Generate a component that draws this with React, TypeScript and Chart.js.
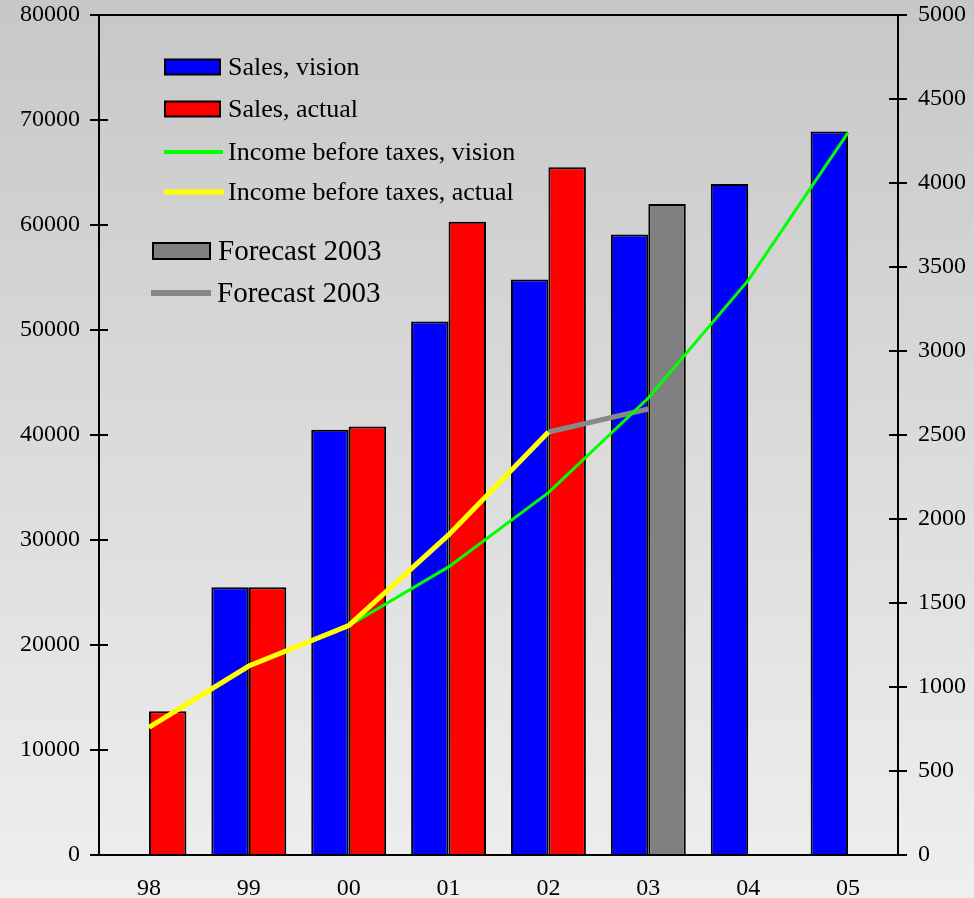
import React, { useEffect, useRef } from "react";
import { Chart, registerables } from "chart.js";

Chart.register(...registerables);

const categories = ["98", "99", "00", "01", "02", "03", "04", "05"];
const salesVision = [null, 25500, 40500, 50800, 54800, 59100, 63900, 68900];
const salesActual = [13700, 25500, 40800, 60300, 65500, null, null, null];
const forecastSales = [null, null, null, null, null, 62000, null, null];
const incomeVision = [null, null, 1365, 1715, 2157, 2720, 3420, 4300];
const incomeActual = [760, 1125, 1365, 1905, 2518, null, null, null];
const forecastIncome = [null, null, null, null, 2518, 2655, null, null];
const leftTicks = [0, 10000, 20000, 30000, 40000, 50000, 60000, 70000, 80000];
const rightTicks = [0, 500, 1000, 1500, 2000, 2500, 3000, 3500, 4000, 4500, 5000];

const FONT = '"Liberation Serif", "Times New Roman", serif';

const bgPlugin = {
  id: "bg",
  beforeDraw(chart: any) {
    const { ctx, width, height } = chart;
    const g = ctx.createLinearGradient(0, 0, 0, height);
    g.addColorStop(0, "#c7c7c7");
    g.addColorStop(1, "#efefef");
    ctx.save();
    ctx.fillStyle = g;
    ctx.fillRect(0, 0, width, height);
    ctx.restore();
  },
};

const axisPlugin = {
  id: "axisExtras",
  afterDraw(chart: any) {
    const { ctx, chartArea } = chart;
    const { left, right, top, bottom } = chartArea;
    ctx.save();
    ctx.strokeStyle = "#000";
    ctx.lineWidth = 2;
    ctx.beginPath();
    ctx.moveTo(left, top);
    ctx.lineTo(right, top);
    ctx.moveTo(left - 9, bottom);
    ctx.lineTo(right + 9, bottom);
    const y = chart.scales.y;
    y.ticks.forEach((t: any) => {
      const p = y.getPixelForValue(t.value);
      ctx.moveTo(left, p);
      ctx.lineTo(left + 9, p);
    });
    const y1 = chart.scales.y1;
    y1.ticks.forEach((t: any) => {
      const p = y1.getPixelForValue(t.value);
      ctx.moveTo(right - 9, p);
      ctx.lineTo(right, p);
    });
    ctx.stroke();
    ctx.restore();
  },
};

const legendPlugin = {
  id: "customLegend",
  afterDraw(chart: any) {
    const { ctx } = chart;
    const ds = chart.data.datasets;
    const items = [
      { i: 0, kind: "box", x1: 165, x2: 220, y: 67, h: 15, tx: 228, size: 26 },
      { i: 1, kind: "box", x1: 165, x2: 220, y: 109, h: 15, tx: 228, size: 26 },
      { i: 2, kind: "line", x1: 164, x2: 223, y: 152, w: 4, tx: 228, size: 26 },
      { i: 3, kind: "line", x1: 164, x2: 224, y: 192, w: 5, tx: 228, size: 26 },
      { i: 4, kind: "box", x1: 153, x2: 210, y: 251, h: 16, tx: 218, size: 29 },
      { i: 5, kind: "line", x1: 151, x2: 211, y: 293, w: 6, tx: 217, size: 29 },
    ];
    ctx.save();
    items.forEach((it: any) => {
      const d = ds[it.i];
      if (it.kind === "box") {
        ctx.fillStyle = d.backgroundColor;
        ctx.fillRect(it.x1, it.y - it.h / 2, it.x2 - it.x1, it.h);
        ctx.strokeStyle = "#000";
        ctx.lineWidth = 2;
        ctx.strokeRect(it.x1, it.y - it.h / 2, it.x2 - it.x1, it.h);
      } else {
        ctx.strokeStyle = d.borderColor;
        ctx.lineWidth = it.w;
        ctx.beginPath();
        ctx.moveTo(it.x1, it.y);
        ctx.lineTo(it.x2, it.y);
        ctx.stroke();
      }
      ctx.fillStyle = "#000";
      ctx.font = `${it.size}px ${FONT}`;
      ctx.textBaseline = "middle";
      ctx.textAlign = "left";
      ctx.fillText(d.label, it.tx, it.y + 1);
    });
    ctx.restore();
  },
};

export default function App() {
  const ref = useRef<HTMLCanvasElement | null>(null);
  useEffect(() => {
    if (!ref.current) return;
    const tickFont = { family: FONT, size: 24 };
    const fitV = (w: number) => (s: any) => {
      s.width = w;
      s.paddingTop = 0;
      s.paddingBottom = 0;
    };
    const chart = new Chart(ref.current, {
      type: "bar",
      data: {
        labels: categories,
        datasets: [
          {
            type: "bar",
            label: "Sales, vision",
            data: salesVision,
            backgroundColor: "#0000ff",
            borderColor: "#000",
            borderWidth: 2,
            stack: "a",
            yAxisID: "y",
            order: 2,
          },
          {
            type: "bar",
            label: "Sales, actual",
            data: salesActual,
            backgroundColor: "#ff0000",
            borderColor: "#000",
            borderWidth: 2,
            stack: "b",
            yAxisID: "y",
            order: 2,
          },
          {
            type: "line",
            label: "Income before taxes, vision",
            data: incomeVision,
            borderColor: "#00ff00",
            backgroundColor: "#00ff00",
            borderWidth: 3,
            pointRadius: 0,
            tension: 0,
            yAxisID: "y1",
            order: 1,
          },
          {
            type: "line",
            label: "Income before taxes, actual",
            data: incomeActual,
            borderColor: "#ffff00",
            backgroundColor: "#ffff00",
            borderWidth: 5,
            pointRadius: 0,
            tension: 0,
            yAxisID: "y1",
            order: 0,
          },
          {
            type: "bar",
            label: "Forecast 2003",
            data: forecastSales,
            backgroundColor: "#808080",
            borderColor: "#000",
            borderWidth: 2,
            stack: "b",
            yAxisID: "y",
            order: 2,
          },
          {
            type: "line",
            label: "Forecast 2003",
            data: forecastIncome,
            borderColor: "#888888",
            backgroundColor: "#888888",
            borderWidth: 5,
            pointRadius: 0,
            tension: 0,
            yAxisID: "y1",
            order: 1,
          },
        ] as any,
      },
      options: {
        responsive: false,
        animation: false,
        layout: { padding: { top: 15, left: 0, right: 0, bottom: 0 } },
        datasets: { bar: { categoryPercentage: 0.75, barPercentage: 1.0 } },
        plugins: { legend: { display: false }, tooltip: { enabled: false } },
        scales: {
          x: {
            type: "category",
            offset: true,
            grid: { display: false, drawTicks: false },
            border: { display: true, color: "#000", width: 2 },
            ticks: { font: tickFont, color: "#000", padding: 19, maxRotation: 0 },
            afterFit: (s: any) => {
              s.height = 43;
              s.paddingLeft = 0;
              s.paddingRight = 0;
            },
          },
          y: {
            position: "left",
            stacked: false,
            min: 0,
            max: 80000,
            afterBuildTicks: (s: any) => {
              s.ticks = leftTicks.map((v) => ({ value: v }));
            },
            grid: { drawOnChartArea: false, drawTicks: true, tickLength: 9, color: "#000", lineWidth: 2 },
            border: { display: true, color: "#000", width: 2 },
            ticks: { font: tickFont, color: "#000", padding: 10, callback: (v: any) => String(v) },
            afterFit: fitV(99),
          },
          y1: {
            position: "right",
            stacked: false,
            min: 0,
            max: 5000,
            afterBuildTicks: (s: any) => {
              s.ticks = rightTicks.map((v) => ({ value: v }));
            },
            grid: { drawOnChartArea: false, drawTicks: true, tickLength: 9, color: "#000", lineWidth: 2 },
            border: { display: true, color: "#000", width: 2 },
            ticks: { font: tickFont, color: "#000", padding: 11, callback: (v: any) => String(v) },
            afterFit: fitV(76),
          },
        },
      } as any,
      plugins: [bgPlugin, axisPlugin, legendPlugin],
    });
    return () => chart.destroy();
  }, []);
  return (
    <div style={{ position: "absolute", left: 0, top: 0, width: 974, height: 898 }}>
      <canvas ref={ref} width={974} height={898} style={{ display: "block" }} />
    </div>
  );
}
